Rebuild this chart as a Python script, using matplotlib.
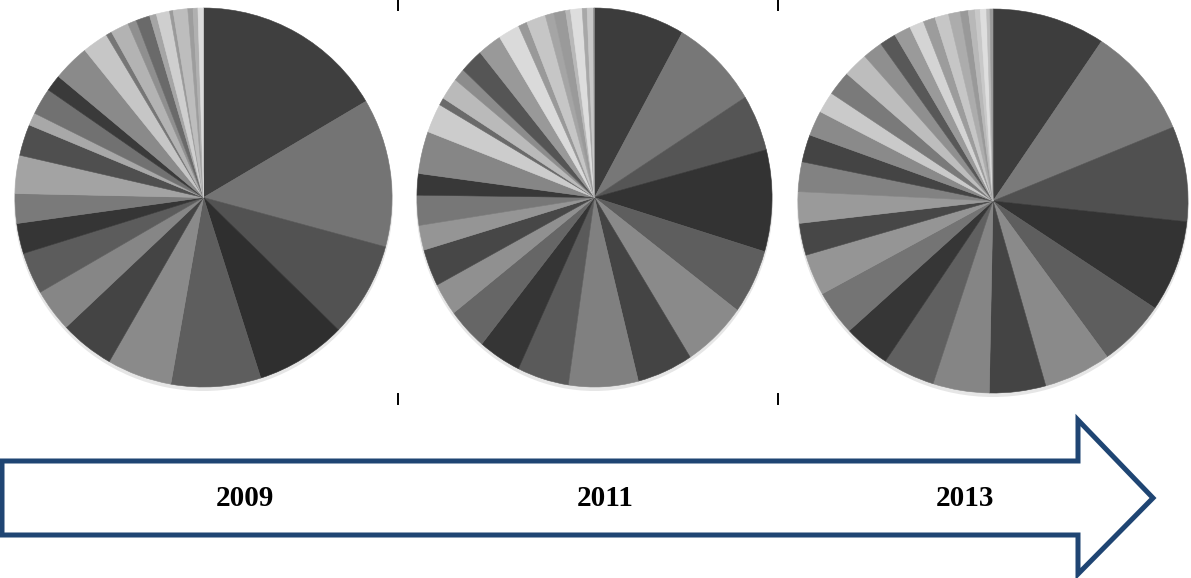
import matplotlib
matplotlib.use("Agg")
import matplotlib.pyplot as plt
from matplotlib.patches import Polygon

W, H = 1191, 578

# -- Donnees : parts (en degres) et niveaux de gris, sens horaire depuis midi --
YEARS = ["2009", "2011", "2013"]

SHARES_2009 = [59.5, 45.6, 29.2, 28.0, 27.7, 20.0, 16.8, 13.2, 12.8, 9.3,
               9.1, 11.7, 9.6, 3.9, 8.2, 5.1, 11.3, 8.0, 1.8, 5.6,
               2.7, 4.3, 2.1, 4.1, 1.1, 4.5, 1.6, 1.5, 1.7]
GRAYS_2009 = ["#3f3f3f", "#747474", "#525252", "#2f2f2f", "#5e5e5e", "#8a8a8a",
              "#444444", "#868686", "#5c5c5c", "#353535", "#7a7a7a", "#a3a3a3",
              "#4f4f4f", "#a8a8a8", "#717171", "#3a3a3a", "#8a8a8a", "#c6c6c6",
              "#767676", "#b3b3b3", "#8f8f8f", "#6a6a6a", "#a5a5a5", "#cfcfcf",
              "#9a9a9a", "#bdbdbd", "#9d9d9d", "#b0b0b0", "#dcdcdc"]

SHARES_2011 = [29.6, 28.5, 17.3, 31.2, 19.9, 20.9, 18.3, 22.8, 16.9, 14.0,
               13.1, 10.0, 11.4, 7.6, 9.2, 6.6, 13.0, 9.0, 2.3, 6.8,
               3.9, 7.6, 7.8, 7.0, 2.9, 6.3, 2.8, 3.9, 1.6, 3.8,
               1.6, 2.1, 0.3]
GRAYS_2011 = ["#3c3c3c", "#777777", "#555555", "#333333", "#5e5e5e", "#8a8a8a",
              "#444444", "#808080", "#5a5a5a", "#353535", "#666666", "#909090",
              "#474747", "#959595", "#777777", "#383838", "#868686", "#cccccc",
              "#6a6a6a", "#bababa", "#8c8c8c", "#555555", "#999999", "#dadada",
              "#999999", "#c6c6c6", "#a5a5a5", "#9a9a9a", "#b8b8b8", "#dddddd",
              "#a8a8a8", "#c8c8c8", "#888888"]

SHARES_2013 = [33.8, 33.6, 28.8, 27.7, 20.3, 20.1, 16.8, 16.8, 15.6, 14.0,
               13.6, 12.5, 9.7, 9.5, 9.0, 8.3, 7.6, 6.4, 7.4, 7.4,
               6.0, 4.9, 5.0, 4.3, 3.6, 4.1, 3.5, 2.4, 2.0, 1.5,
               1.9, 1.0, 0.9]
GRAYS_2013 = ["#3d3d3d", "#7a7a7a", "#505050", "#333333", "#5e5e5e", "#8a8a8a",
              "#444444", "#858585", "#606060", "#363636", "#747474", "#959595",
              "#474747", "#9a9a9a", "#828282", "#444444", "#8a8a8a", "#cacaca",
              "#7a7a7a", "#bdbdbd", "#8f8f8f", "#585858", "#9a9a9a", "#d4d4d4",
              "#9c9c9c", "#c6c6c6", "#acacac", "#999999", "#b8b8b8", "#c8c8c8",
              "#dedede", "#bcbcbc", "#9a9a9a"]

# boites des camemberts en pixels : centre x, centre y (depuis le haut), rayon x, rayon y
PIE_BOXES = [(203.5, 197.5, 188.5, 189.5),
             (594.5, 197.5, 177.5, 189.5),
             (993.0, 201.0, 195.0, 192.0)]
YEAR_X = [245, 605, 965]
ARROW_COLOR = "#1f4573"

fig = plt.figure(figsize=(W / 100, H / 100), dpi=100)

# -- Fond : fleche + reperes --
bg = fig.add_axes([0, 0, 1, 1])
bg.set_xlim(0, W)
bg.set_ylim(H, 0)
bg.axis("off")

arrow = Polygon([(2, 461), (1078, 461), (1078, 420), (1153, 498),
                 (1078, 574), (1078, 535), (2, 535)],
                closed=True, facecolor="white", edgecolor=ARROW_COLOR,
                linewidth=3.6, joinstyle="miter")
bg.add_patch(arrow)

for x in (398, 778):
    bg.plot([x, x], [0, 10], color="black", linewidth=1.4)
    bg.plot([x, x], [394, 404], color="black", linewidth=1.4)

for label, x in zip(YEARS, YEAR_X):
    bg.text(x, 498, label, ha="center", va="center", fontsize=21,
            fontweight="bold", family=["Liberation Serif", "DejaVu Serif"])

# -- Camemberts --
series = [(SHARES_2009, GRAYS_2009), (SHARES_2011, GRAYS_2011),
          (SHARES_2013, GRAYS_2013)]

for (cx, cy, rx, ry), (shares, grays) in zip(PIE_BOXES, series):
    # ombre legere sous le disque
    sh = fig.add_axes([(cx - rx - 1) / W, (H - (cy + ry + 4)) / H,
                       (2 * rx + 2) / W, (2 * ry + 2) / H])
    sh.pie([1], colors=["#e6e6e6"], radius=1.0)
    sh.set_xlim(-1, 1)
    sh.set_ylim(-1, 1)
    sh.set_aspect("auto")
    sh.axis("off")

    ax = fig.add_axes([(cx - rx) / W, (H - (cy + ry)) / H, 2 * rx / W, 2 * ry / H])
    wedges, _ = ax.pie(shares, colors=grays, startangle=90, counterclock=False,
                       radius=1.0)
    for w in wedges:
        w.set_edgecolor(w.get_facecolor())
        w.set_linewidth(0.4)
    ax.set_xlim(-1, 1)
    ax.set_ylim(-1, 1)
    ax.set_aspect("auto")
    ax.axis("off")

fig.savefig("out.png", dpi=100)
